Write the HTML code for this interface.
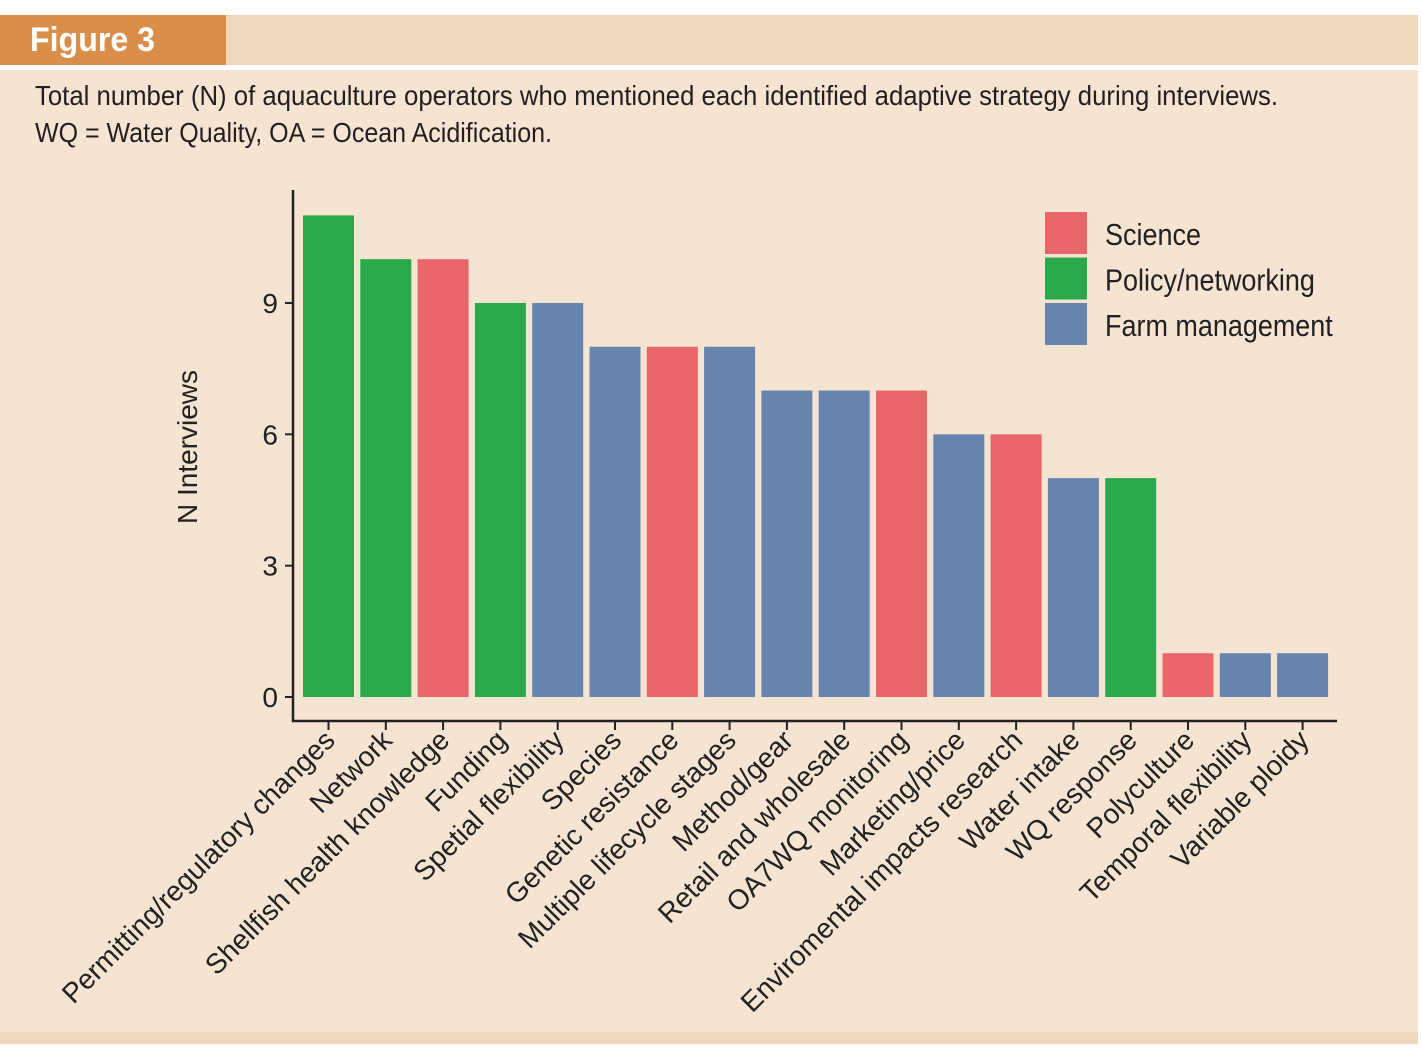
<!DOCTYPE html>
<html><head><meta charset="utf-8"><style>
html,body{margin:0;padding:0;background:#fff;}
svg{display:block;font-family:"Liberation Sans Narrow","Liberation Sans",sans-serif;}
</style></head><body>
<svg id="fig" width="1422" height="1063" viewBox="0 0 1422 1063">
<rect x="0" y="0" width="1422" height="1063" fill="#ffffff"/>
<rect x="0" y="70" width="1418" height="962" fill="#f5e4d1"/>
<rect x="0" y="1032" width="1418" height="12" fill="#efd8bd"/>
<rect x="226" y="15" width="1192" height="50" fill="#f0d8bd"/>
<rect x="0" y="15" width="226" height="50" fill="#d98f4a"/>
<text x="30" y="51" font-size="34" font-weight="bold" fill="#fff" textLength="125" lengthAdjust="spacingAndGlyphs">Figure 3</text>
<text x="35" y="105" font-size="28" fill="#231f20" textLength="1243" lengthAdjust="spacingAndGlyphs">Total number (N) of aquaculture operators who mentioned each identified adaptive strategy during interviews.</text>
<text x="35" y="142" font-size="28" fill="#231f20" textLength="517" lengthAdjust="spacingAndGlyphs">WQ = Water Quality, OA = Ocean Acidification.</text>
<g id="chart"></g>
</svg>
<script>
const categories=["Permitting/regulatory changes","Network","Shellfish health knowledge","Funding","Spetial flexibility","Species","Genetic resistance","Multiple lifecycle stages","Method/gear","Retail and wholesale","OA7WQ monitoring","Marketing/price","Enviromental impacts research","Water intake","WQ response","Polyculture","Temporal flexibility","Variable ploidy"];
const values=[11,10,10,9,9,8,8,8,7,7,7,6,6,5,5,1,1,1];
const groups=["P","P","S","P","F","F","S","F","F","F","S","F","S","F","P","S","F","F"];
const yTicks=[0,3,6,9];
const legendLabels=["Science","Policy/networking","Farm management"];
const legendKeys=["S","P","F"];
const colors={S:"#e8666a",P:"#2aa84b",F:"#6784ae"};
const NS="http://www.w3.org/2000/svg";
const g=document.getElementById('chart');
const x0=293,xEnd=1337,firstC=328.5,step=57.3,bw=51;
const y=v=>697-v*43.78;
const xc=i=>firstC+i*step;
function el(t,a){const e=document.createElementNS(NS,t);for(const k in a)e.setAttribute(k,a[k]);g.appendChild(e);return e;}
values.forEach((v,i)=>{
 const r=el('rect',{x:xc(i)-bw/2,y:y(v),width:bw,height:y(0)-y(v),fill:colors[groups[i]]});
 
 
 const t=el('line',{x1:xc(i),x2:xc(i),y1:721,y2:730,stroke:'#222','stroke-width':2});
 
 
 const lx=xc(i)+8,ly=742;
 const tx=el('text',{x:lx,y:ly,'font-size':28,fill:'#222','text-anchor':'end',transform:`rotate(-45 ${lx} ${ly})`});
 tx.textContent=categories[i];
 
 
});
yTicks.forEach(v=>{
 const t=el('line',{x1:285,x2:293,y1:y(v),y2:y(v),stroke:'#222','stroke-width':2});
 
 
 const tx=el('text',{x:278,y:y(v)+10,'font-size':28,fill:'#222','text-anchor':'end'});
 tx.textContent=v;
 
 
});
const ya=el('line',{x1:293,x2:293,y1:190,y2:722,stroke:'#222','stroke-width':2.5});


const xa=el('line',{x1:292,x2:xEnd,y1:721,y2:721,stroke:'#222','stroke-width':2.5});


const yt=el('text',{x:197,y:447,'font-size':28,fill:'#222','text-anchor':'middle',transform:'rotate(-90 197 447)'});
yt.textContent='N Interviews';


legendLabels.forEach((l,i)=>{
 const yy=212+i*45.5;
 const s=el('rect',{x:1045,y:yy,width:42,height:42,fill:colors[legendKeys[i]]});
 
 
 const t=el('text',{x:1105,y:yy+33,'font-size':31,fill:'#222'});
 t.textContent=l;
 
 
 const w=t.getComputedTextLength();
 t.setAttribute('textLength',(w*0.87).toFixed(1));
 t.setAttribute('lengthAdjust','spacingAndGlyphs');
});
</script>
</body></html>
